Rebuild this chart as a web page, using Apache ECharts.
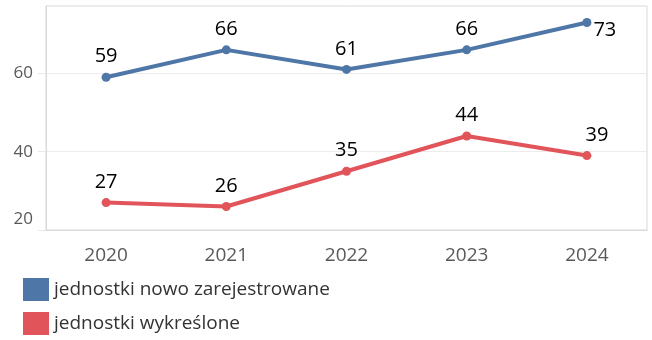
<!DOCTYPE html>
<html><head><meta charset="utf-8">
<script src="https://cdn.jsdelivr.net/npm/echarts@6/dist/echarts.min.js"></script>
<style>html,body{margin:0;padding:0;background:#fff}#c{width:652px;height:340px}</style>
</head><body><div id="c"></div>
<script>
var years = ['2020','2021','2022','2023','2024'];
var registered = [59, 66, 61, 66, 73];
var removed = [27, 26, 35, 44, 39];
var yTicks = [20, 40, 60];
var seriesNames = ['jednostki nowo zarejestrowane', 'jednostki wykreślone'];
var FONT = '"Open Sans", "Noto Sans", sans-serif';
var chart = echarts.init(document.getElementById('c'), null, {renderer:'canvas'});
chart.setOption({
  animation: false,
  textStyle: {fontFamily: FONT},
  grid: {left: 46, right: 5, top: 6, bottom: 110, show: true, borderColor: '#d9d9d9', borderWidth: 1},
  legend: {
    orient: 'vertical', left: 23, top: 278, padding: 0, itemWidth: 26, itemHeight: 23, itemGap: 11,
    icon: 'rect',
    textStyle: {fontSize: 19, color: '#333', fontFamily: FONT},
    data: seriesNames
  },
  xAxis: {
    type: 'category', data: years,
    axisLine: {lineStyle: {color: '#d9d9d9'}},
    axisTick: {length: 10, lineStyle: {color: '#e3e3e3'}},
    axisLabel: {fontSize: 19, color: '#595959', margin: 16, fontFamily: FONT}
  },
  yAxis: {
    type: 'value', min: 20, max: 77.2, interval: 20,
    axisLine: {show: true, lineStyle: {color: '#d9d9d9'}},
    axisTick: {show: true, length: 8, customValues: yTicks, lineStyle: {color: '#e8e8e8'}},
    splitLine: {lineStyle: {color: '#ececec'}},
    axisLabel: {
      customValues: yTicks, fontSize: 17, color: '#595959', margin: 13, fontFamily: FONT,
      formatter: function(v){ return v === 20 ? '{low|20}' : String(v); },
      rich: {low: {fontSize: 17, color: '#595959', padding: [0,0,22,0], fontFamily: FONT}}
    }
  },
  series: [
    {
      name: seriesNames[0], type: 'line', data: registered.map(function(v,i){
        return i === 4 ? {value: v, label: {position: 'right', distance: 2, offset: [0, 8]}} : v;
      }),
      color: '#4e76a6', lineStyle: {width: 4}, symbol: 'circle', symbolSize: 9,
      label: {show: true, position: 'top', distance: 6, fontSize: 20, color: '#000', fontFamily: FONT}
    },
    {
      name: seriesNames[1], type: 'line', data: removed.map(function(v,i){
        return i === 4 ? {value: v, label: {offset: [10, 0]}} : v;
      }),
      color: '#e0545a', lineStyle: {width: 4}, symbol: 'circle', symbolSize: 9,
      label: {show: true, position: 'top', distance: 6, fontSize: 20, color: '#000', fontFamily: FONT}
    }
  ]
});
</script></body></html>
